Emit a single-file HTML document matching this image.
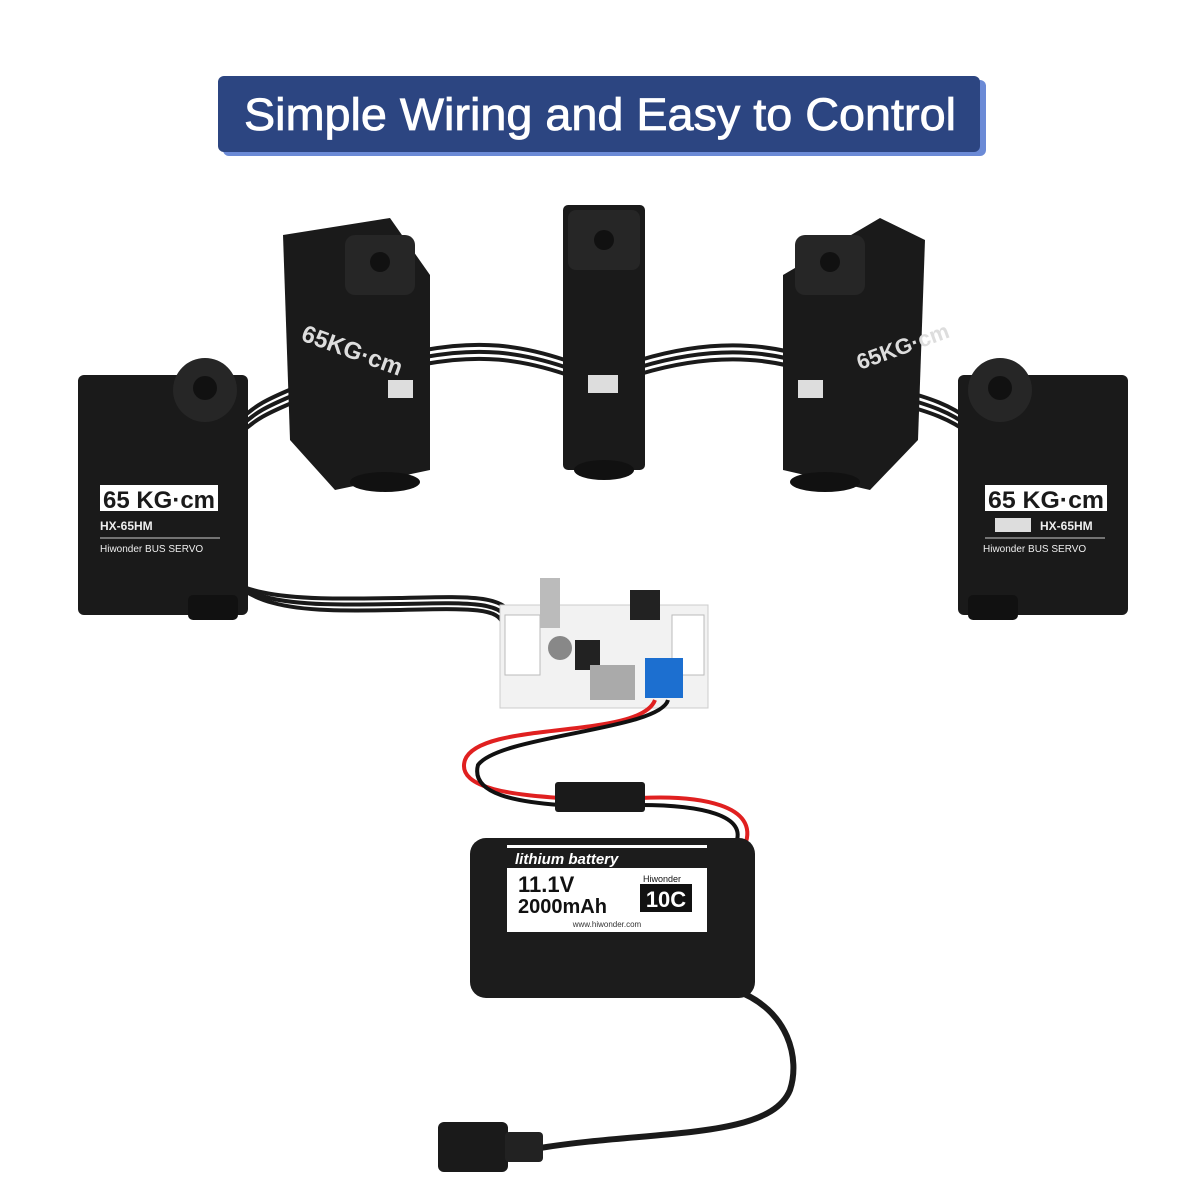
<!DOCTYPE html>
<html><head><meta charset="utf-8"><style>
html,body{margin:0;padding:0;background:#fff;}
svg{display:block;}
text{font-family:"Liberation Sans",sans-serif;}
</style></head><body>
<svg width="1200" height="1200" viewBox="0 0 1200 1200">
<rect width="1200" height="1200" fill="#fff"/>
<!-- title -->
<rect x="223" y="80" width="763" height="76" rx="6" fill="#6b8ad6"/>
<rect x="218" y="76" width="762" height="76" rx="6" fill="#2c4581"/>
<text x="600" y="130" font-size="45" fill="#fff" text-anchor="middle" textLength="712" lengthAdjust="spacingAndGlyphs" stroke="#fff" stroke-width="0.8">Simple Wiring and Easy to Control</text>

<!-- cables between servos -->
<g fill="none" stroke="#1a1a1a" stroke-width="4">
<path d="M240 420 C260 400,280 395,300 385"/><path d="M240 427 C260 407,280 402,300 392"/><path d="M240 434 C260 414,280 409,300 399"/>
<path d="M425 350 C480 340,520 345,565 360"/><path d="M425 357 C480 347,520 352,565 367"/><path d="M425 364 C480 354,520 359,565 374"/>
<path d="M640 360 C690 345,740 340,790 352"/><path d="M640 367 C690 352,740 347,790 359"/><path d="M640 374 C690 359,740 354,790 366"/>
<path d="M900 390 C930 398,950 405,970 420"/><path d="M900 397 C930 405,950 412,970 427"/><path d="M900 404 C930 412,950 419,970 434"/>
<path d="M195 540 C220 600,280 600,400 598 C480 596,510 595,515 625"/>
<path d="M201 540 C226 606,286 606,400 604 C476 602,505 602,509 625"/>
<path d="M207 540 C232 612,292 612,400 610 C472 608,500 608,503 625"/>
</g>

<!-- left servo -->
<rect x="78" y="375" width="170" height="240" rx="6" fill="#1a1a1a"/>
<rect x="188" y="595" width="50" height="25" rx="5" fill="#111"/>
<circle cx="205" cy="390" r="32" fill="#262626"/><circle cx="205" cy="388" r="12" fill="#111"/>
<rect x="100" y="485" width="118" height="26" fill="#fff"/>
<text x="103" y="508" font-size="24" font-weight="bold" fill="#1a1a1a" textLength="112" lengthAdjust="spacingAndGlyphs">65 KG·cm</text>
<text x="100" y="530" font-size="12" font-weight="bold" fill="#eee">HX-65HM</text>
<line x1="100" y1="538" x2="220" y2="538" stroke="#ccc"/>
<text x="100" y="552" font-size="10" fill="#eee">Hiwonder BUS SERVO</text>

<!-- second servo -->
<polygon points="283,235 390,218 430,275 430,470 335,490 290,440" fill="#1a1a1a"/>
<rect x="345" y="235" width="70" height="60" rx="10" fill="#262626"/><circle cx="380" cy="262" r="10" fill="#111"/>
<rect x="388" y="380" width="25" height="18" fill="#ddd"/>
<ellipse cx="385" cy="482" rx="35" ry="10" fill="#111"/>
<text x="300" y="340" font-size="24" font-weight="bold" fill="#ddd" transform="rotate(20 300 340)">65KG·cm</text>

<!-- center servo -->
<rect x="563" y="205" width="82" height="265" rx="5" fill="#1a1a1a"/>
<rect x="568" y="210" width="72" height="60" rx="8" fill="#262626"/><circle cx="604" cy="240" r="10" fill="#111"/>
<rect x="588" y="375" width="30" height="18" fill="#ddd"/>
<ellipse cx="604" cy="470" rx="30" ry="10" fill="#111"/>

<!-- fourth servo -->
<polygon points="783,275 880,218 925,240 918,440 870,490 783,470" fill="#1a1a1a"/>
<rect x="795" y="235" width="70" height="60" rx="10" fill="#262626"/><circle cx="830" cy="262" r="10" fill="#111"/>
<rect x="798" y="380" width="25" height="18" fill="#ddd"/>
<ellipse cx="825" cy="482" rx="35" ry="10" fill="#111"/>
<text x="860" y="370" font-size="22" font-weight="bold" fill="#ddd" transform="rotate(-20 860 370)">65KG·cm</text>

<!-- right servo -->
<rect x="958" y="375" width="170" height="240" rx="6" fill="#1a1a1a"/>
<rect x="968" y="595" width="50" height="25" rx="5" fill="#111"/>
<circle cx="1000" cy="390" r="32" fill="#262626"/><circle cx="1000" cy="388" r="12" fill="#111"/>
<rect x="985" y="485" width="122" height="26" fill="#fff"/>
<text x="988" y="508" font-size="24" font-weight="bold" fill="#1a1a1a" textLength="116" lengthAdjust="spacingAndGlyphs">65 KG·cm</text>
<rect x="995" y="518" width="36" height="14" fill="#ddd"/>
<text x="1040" y="530" font-size="12" font-weight="bold" fill="#eee">HX-65HM</text>
<line x1="985" y1="538" x2="1105" y2="538" stroke="#ccc"/>
<text x="983" y="552" font-size="10" fill="#eee">Hiwonder BUS SERVO</text>

<!-- board -->
<rect x="500" y="605" width="208" height="103" fill="#f2f2f2" stroke="#ccc"/>
<rect x="540" y="578" width="20" height="50" fill="#bbb"/>
<rect x="630" y="590" width="30" height="30" fill="#222"/>
<rect x="505" y="615" width="35" height="60" fill="#fff" stroke="#bbb"/>
<rect x="672" y="615" width="32" height="60" fill="#fff" stroke="#bbb"/>
<circle cx="560" cy="648" r="12" fill="#888"/>
<rect x="575" y="640" width="25" height="30" fill="#222"/>
<rect x="590" y="665" width="45" height="35" fill="#aaa"/>
<rect x="645" y="658" width="38" height="40" fill="#1c6fd0"/>

<!-- red/black power cable -->
<g fill="none" stroke-width="4">
<path d="M655 700 C640 740,480 720,465 760 C455 790,520 795,560 798" stroke="#e02020"/>
<path d="M668 700 C660 730,500 735,478 765 C470 795,520 802,560 805" stroke="#111"/>
<path d="M640 798 C700 795,760 805,745 845" stroke="#e02020"/>
<path d="M640 805 C700 805,750 815,735 845" stroke="#111"/>
<path d="M735 990 C790 1010,800 1060,790 1090 C770 1140,650 1130,540 1148" stroke="#1a1a1a" stroke-width="6"/>
</g>
<rect x="555" y="782" width="90" height="30" rx="3" fill="#1a1a1a"/>

<!-- battery -->
<rect x="470" y="838" width="285" height="160" rx="16" fill="#1c1c1c"/>
<rect x="507" y="845" width="200" height="87" fill="#fff"/>
<rect x="507" y="848" width="200" height="20" fill="#1c1c1c"/>
<text x="515" y="864" font-size="15" font-weight="bold" font-style="italic" fill="#fff">lithium battery</text>
<text x="518" y="892" font-size="22" font-weight="bold" fill="#111">11.1V</text>
<text x="518" y="913" font-size="20" font-weight="bold" fill="#111">2000mAh</text>
<text x="643" y="882" font-size="9" fill="#111">Hiwonder</text>
<rect x="640" y="884" width="52" height="28" fill="#111"/>
<text x="666" y="907" font-size="22" font-weight="bold" fill="#fff" text-anchor="middle">10C</text>
<text x="607" y="927" font-size="8" fill="#333" text-anchor="middle">www.hiwonder.com</text>

<!-- DC connector -->
<rect x="438" y="1122" width="70" height="50" rx="6" fill="#1a1a1a"/>
<rect x="505" y="1132" width="38" height="30" rx="4" fill="#222"/>
</svg>
</body></html>
